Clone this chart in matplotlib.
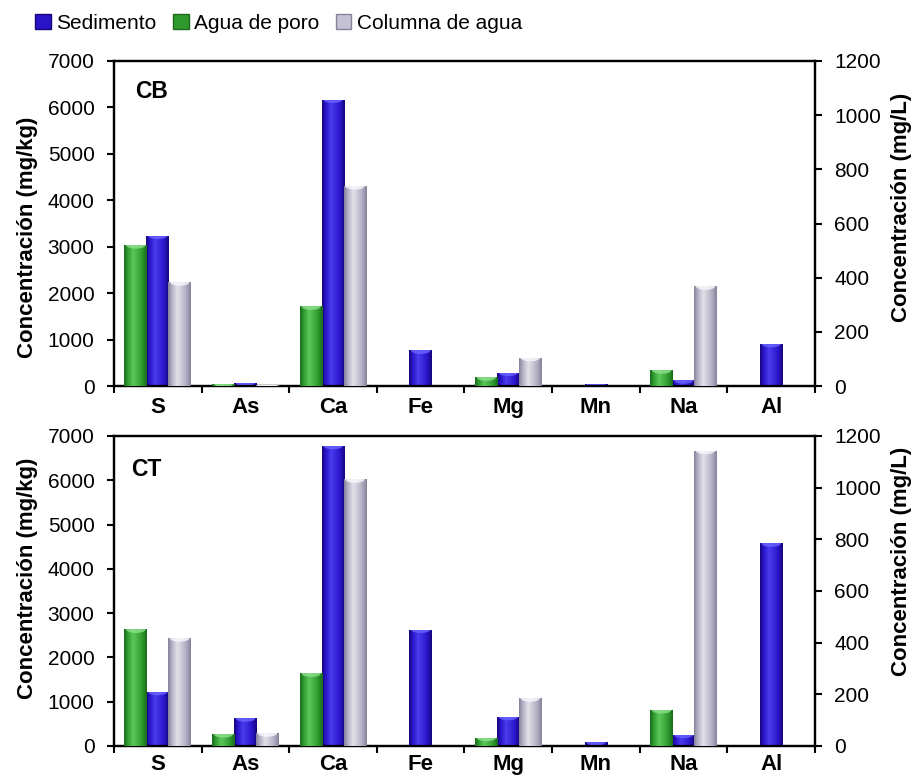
import numpy as np
import matplotlib.pyplot as plt
from matplotlib.colors import LinearSegmentedColormap
from matplotlib.patches import Patch, Ellipse

plt.rcParams['font.family'] = ['Liberation Sans', 'DejaVu Sans']

elementos = ['S', 'As', 'Ca', 'Fe', 'Mg', 'Mn', 'Na', 'Al']

# sedimento en mg/kg (eje izquierdo), agua de poro y columna de agua en mg/L (eje derecho)
cb_sedimento = [3240, 70, 6170, 765, 290, 40, 125, 910]
cb_poro = [520, 9, 294, 0, 32, 0, 58, 0]
cb_columna = [383, 2, 738, 0, 104, 0, 368, 0]

ct_sedimento = [1225, 625, 6780, 2630, 660, 90, 256, 4575]
ct_poro = [451, 46, 281, 0, 32, 0, 139, 0]
ct_columna = [417, 49, 1032, 0, 185, 0, 1143, 0]

paneles = [('CB', cb_sedimento, cb_poro, cb_columna),
           ('CT', ct_sedimento, ct_poro, ct_columna)]

azul = ['#15067a', '#2a14c8', '#4a3cf0', '#2a14c8', '#15067a']
verde = ['#1a6a1a', '#2e9a2e', '#5cc85c', '#2e9a2e', '#1a6a1a']
gris = ['#85839a', '#b0adc2', '#e2e2ea', '#b0adc2', '#85839a']
tapa = {'azul': '#6a66ff', 'verde': '#8ee08e', 'gris': '#f8f8fc'}

grad = np.linspace(0, 1, 64).reshape(1, -1)


def barras(ax, x, h, w, colores, cap, cap_h):
    cmap = LinearSegmentedColormap.from_list('c', [(0, colores[0]), (0.15, colores[1]),
                                                   (0.4, colores[2]), (0.8, colores[3]),
                                                   (1, colores[4])])
    rects = ax.bar(x, h, w, color=colores[1], linewidth=0, zorder=2)
    for r in rects:
        x0, y0 = r.get_x(), r.get_y()
        ww, hh = r.get_width(), r.get_height()
        if hh <= 0:
            r.set_visible(False)
            continue
        im = ax.imshow(grad, cmap=cmap, extent=[x0, x0 + ww, y0, y0 + hh],
                       aspect='auto', zorder=3, interpolation='bilinear')
        im.set_clip_path(r)
        e = Ellipse((x0 + ww / 2, y0 + hh), ww * 0.85, cap_h, color=cap,
                    alpha=0.8, zorder=4, linewidth=0)
        ax.add_patch(e)
        e.set_clip_path(r)


fig = plt.figure(figsize=(9.14, 7.77), dpi=100)
posiciones = [[0.1247, 0.5032, 0.767, 0.4183], [0.1247, 0.0399, 0.767, 0.399]]
etiqueta_y = [(0.458, 0.55), (0.54, 0.597)]
pads_x = [8, 6]

x = np.arange(len(elementos)) + 0.5
w = 0.26

for k, (nombre, sed, poro, col) in enumerate(paneles):
    ax = fig.add_axes(posiciones[k])
    ax2 = ax.twinx()
    alto_px = posiciones[k][3] * 777
    barras(ax, x, sed, w, azul, tapa['azul'], 7000 * 7 / alto_px)
    barras(ax2, x - 0.25, poro, w, verde, tapa['verde'], 1200 * 7 / alto_px)
    barras(ax2, x + 0.25, col, w, gris, tapa['gris'], 1200 * 7 / alto_px)

    ax.set_xlim(0, 8)
    ax.set_ylim(0, 7000)
    ax2.set_ylim(0, 1200)
    ax.set_yticks(np.arange(0, 7001, 1000))
    ax2.set_yticks(np.arange(0, 1201, 200))
    ax.set_xticks(np.arange(0, 9))
    ax.set_xticklabels([])
    ax.set_xticks(x, minor=True)
    ax.set_xticklabels(elementos, minor=True, fontsize=16, fontweight='bold')
    ax.tick_params(axis='x', which='minor', length=0, pad=pads_x[k])
    ax.tick_params(axis='x', which='major', length=5, width=1.5, direction='out')
    ax.tick_params(axis='y', labelsize=15, length=5, width=1.5, pad=9)
    ax2.tick_params(axis='y', labelsize=15, length=5, width=1.5, pad=9)
    for a in (ax, ax2):
        for s in a.spines.values():
            s.set_linewidth(1.6)

    ax.set_ylabel('Concentración (mg/kg)', fontsize=16, fontweight='bold')
    ax.yaxis.set_label_coords(-0.108, etiqueta_y[k][0])
    ax2.set_ylabel('Concentración (mg/L)', fontsize=16, fontweight='bold')
    ax2.yaxis.set_label_coords(1.109, etiqueta_y[k][1])

    ax.text(0.03 if k == 0 else 0.025, 0.94 if k == 0 else 0.93, nombre,
            transform=ax.transAxes, fontsize=16.5, fontweight='bold',
            ha='left', va='top', zorder=5)

handles = [Patch(facecolor='#2a14c8', edgecolor='#15067a'),
           Patch(facecolor='#2e9a2e', edgecolor='#1a6a1a'),
           Patch(facecolor='#c4c2d2', edgecolor='#85839a')]
fig.legend(handles, ['Sedimento', 'Agua de poro', 'Columna de agua'],
           loc='upper left', bbox_to_anchor=(0.018, 1.006), ncol=3, frameon=False,
           fontsize=15, handlelength=0.75, handleheight=0.75, handletextpad=0.25,
           columnspacing=0.8)

fig.savefig('out.png', dpi=100)
